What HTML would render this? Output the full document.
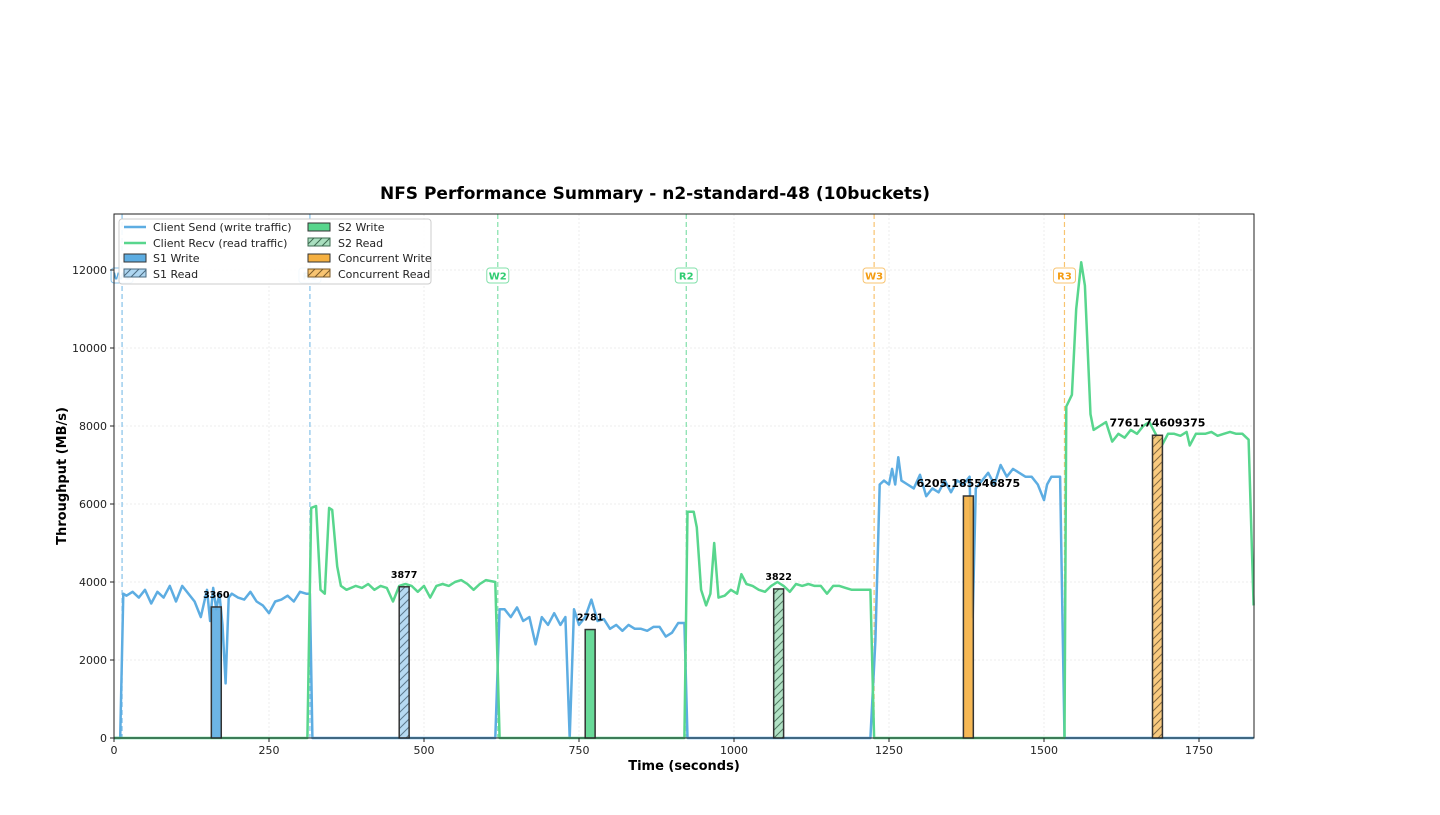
<!DOCTYPE html>
<html><head><meta charset="utf-8"><style>
body{margin:0;background:#fff;font-family:"Liberation Sans","DejaVu Sans",sans-serif}
svg text{font-family:"DejaVu Sans","Liberation Sans",sans-serif}
</style></head><body>
<svg id="chart" width="1440" height="810" xmlns="http://www.w3.org/2000/svg">
<defs>
<pattern id="hatchB" width="8" height="8" patternUnits="userSpaceOnUse"><rect width="8" height="8" fill="#aed6f1"/><path d="M0,8 L8,0 M-2,2 L2,-2 M6,10 L10,6" stroke="#4a6a80" stroke-width="1"/></pattern>
<pattern id="hatchG" width="8" height="8" patternUnits="userSpaceOnUse"><rect width="8" height="8" fill="#a9dfbf"/><path d="M0,8 L8,0 M-2,2 L2,-2 M6,10 L10,6" stroke="#3d6b50" stroke-width="1"/></pattern>
<pattern id="hatchO" width="8" height="8" patternUnits="userSpaceOnUse"><rect width="8" height="8" fill="#f8c471"/><path d="M0,8 L8,0 M-2,2 L2,-2 M6,10 L10,6" stroke="#7a5a2a" stroke-width="1"/></pattern>
</defs>
<g id="grid"></g><g id="marks"></g><g id="axes"></g>
</svg>
<script>
const sendT=[0,10,15,20,30,40,50,60,70,80,90,100,110,120,130,140,150,155,160,165,170,175,180,185,190,200,210,220,230,240,250,260,270,280,290,300,310,316,320,615,622,630,640,650,660,670,680,690,700,710,720,728,735,742,750,760,770,780,790,800,810,820,830,840,850,860,870,880,890,900,910,920,925,1220,1228,1235,1242,1250,1255,1260,1265,1270,1280,1290,1300,1310,1320,1330,1340,1350,1360,1370,1380,1385,1390,1400,1410,1420,1430,1440,1450,1460,1470,1480,1490,1500,1505,1512,1526,1533,1838];
const sendV=[0,0,3700,3650,3750,3600,3800,3450,3750,3600,3900,3500,3900,3700,3500,3100,3800,3000,3850,3300,3700,2900,1400,3600,3700,3600,3550,3750,3500,3400,3200,3500,3550,3650,3500,3750,3700,3700,0,0,3300,3300,3100,3350,3000,3100,2400,3100,2900,3200,2900,3100,0,3300,2900,3100,3550,3000,3050,2800,2900,2750,2900,2800,2800,2750,2850,2850,2600,2700,2950,2950,0,0,2500,6500,6600,6500,6900,6500,7200,6600,6500,6400,6750,6200,6400,6300,6600,6300,6600,6500,6700,3100,6400,6600,6800,6500,7000,6700,6900,6800,6700,6700,6500,6100,6500,6700,6700,0,0];
const recvT=[0,312,318,326,333,340,347,352,360,366,375,390,400,410,420,430,440,450,460,470,480,490,500,510,520,530,540,550,560,570,580,590,600,615,622,920,925,935,940,947,955,962,968,975,985,995,1005,1012,1020,1030,1040,1050,1060,1070,1080,1090,1100,1110,1120,1130,1140,1150,1160,1170,1180,1190,1200,1220,1226,1533,1536,1545,1552,1560,1566,1575,1580,1590,1600,1610,1620,1630,1640,1650,1660,1670,1680,1690,1700,1710,1720,1730,1735,1745,1760,1770,1780,1790,1800,1810,1820,1830,1838];
const recvV=[0,0,5900,5950,3800,3700,5900,5850,4400,3900,3800,3900,3850,3950,3800,3900,3850,3500,3900,3950,3900,3750,3900,3600,3900,3950,3900,4000,4050,3950,3800,3950,4050,4000,0,0,5800,5800,5400,3800,3400,3700,5000,3600,3650,3800,3700,4200,3950,3900,3800,3750,3900,4000,3900,3750,3950,3900,3950,3900,3900,3700,3900,3900,3850,3800,3800,3800,0,0,8500,8800,11000,12200,11600,8300,7900,8000,8100,7600,7800,7700,7900,7800,8000,8100,7800,7500,7800,7800,7750,7850,7500,7800,7800,7850,7750,7800,7850,7800,7800,7650,3400];
const barNames=["S1 Write","S1 Read","S2 Write","S2 Read","Concurrent Write","Concurrent Read"];
const barT=[165,468,768,1072,1378,1683];
const barV=[3360,3877,2781,3822,6205.185546875,7761.74609375];
const barLabels=["3360","3877","2781","3822","6205.185546875","7761.74609375"];
const phaseNames=["W1","R1","W2","R2","W3","R3"];
const phaseT=[13,316,619,923,1226,1533];
const xTicks=[0,250,500,750,1000,1250,1500,1750];
const yTicks=[0,2000,4000,6000,8000,10000,12000];

const X0=114,X1=1254,Y0=738,Y1=214,XMAX=1838.7,YMAX=13436;
const x=t=>X0+t/XMAX*(X1-X0), y=v=>Y0-v/YMAX*(Y0-Y1);
const NS="http://www.w3.org/2000/svg";
function mk(tag,attrs,parent,text){const e=document.createElementNS(NS,tag);for(const k in attrs)e.setAttribute(k,attrs[k]);if(text!==undefined)e.textContent=text;parent.appendChild(e);return e;}
const grid=document.getElementById('grid'),marks=document.getElementById('marks'),axes=document.getElementById('axes');
xTicks.forEach(t=>{mk('line',{x1:x(t),x2:x(t),y1:Y1,y2:Y0,stroke:'#eee','stroke-dasharray':'2,2'},grid);});
yTicks.forEach(v=>{mk('line',{x1:X0,x2:X1,y1:y(v),y2:y(v),stroke:'#eee','stroke-dasharray':'2,2'},grid);});
const phaseCol=['#85c1e9','#85c1e9','#82e0aa','#82e0aa','#f8c471','#f8c471'];
const phaseTxt=['#5dade2','#5dade2','#2ecc71','#2ecc71','#f39c12','#f39c12'];
phaseT.forEach((t,i)=>{
 const l=mk('line',{x1:x(t),x2:x(t),y1:Y1,y2:Y0,stroke:phaseCol[i],'stroke-dasharray':'5,3','stroke-width':1.2},marks);
 
 
 const g=mk('g',{},marks);
 
 
 mk('rect',{x:x(t)-11,y:268,width:22,height:15,rx:3,fill:'#fff',stroke:phaseCol[i]},g);
 mk('text',{x:x(t),y:279.5,'text-anchor':'middle','font-size':10,'font-weight':'bold',fill:phaseTxt[i]},g,phaseNames[i]);
});
function path(T,V){return T.map((t,i)=>(i?'L':'M')+x(t).toFixed(1)+','+y(V[i]).toFixed(1)).join(' ');}
const ps=mk('path',{d:path(sendT,sendV),fill:'none',stroke:'#5dade2','stroke-width':2.5,'stroke-linejoin':'round'},marks);


const pr=mk('path',{d:path(recvT,recvV),fill:'none',stroke:'#58d68d','stroke-width':2.5,'stroke-linejoin':'round'},marks);


const barFill=['#5dade2','url(#hatchB)','#58d68d','url(#hatchG)','#f5b041','url(#hatchO)'];
barT.forEach((t,i)=>{
 const w=x(8)-x(0);
 const r=mk('rect',{x:x(t)-w,y:y(barV[i]),width:2*w,height:Y0-y(barV[i]),fill:barFill[i],stroke:'#333','stroke-width':1.5,'fill-opacity':0.9},marks);
 
 
 const big=barV[i]>5000;
 const tx=mk('text',{x:x(t),y:y(barV[i])-9,'text-anchor':'middle','font-size':big?11:9.5,'font-weight':'bold',fill:'#000'},marks,barLabels[i]);
 
 
});
mk('rect',{x:X0,y:Y1,width:X1-X0,height:Y0-Y1,fill:'none',stroke:'#222','stroke-width':1},axes);
xTicks.forEach(t=>{mk('line',{x1:x(t),x2:x(t),y1:Y0,y2:Y0+4,stroke:'#222'},axes);
 const e=mk('text',{x:x(t),y:Y0+16,'text-anchor':'middle','font-size':11,fill:'#222'},axes,String(t));
 
 });
yTicks.forEach(v=>{mk('line',{x1:X0-4,x2:X0,y1:y(v),y2:y(v),stroke:'#222'},axes);
 const e=mk('text',{x:X0-7,y:y(v)+4,'text-anchor':'end','font-size':11,fill:'#222'},axes,String(v));
 
 });
</script>
<svg style="position:absolute;left:0;top:0" width="1440" height="810" xmlns="http://www.w3.org/2000/svg">
<text x="655" y="199" text-anchor="middle" font-size="17" font-weight="bold" font-family="DejaVu Sans, Liberation Sans, sans-serif">NFS Performance Summary - n2-standard-48 (10buckets)</text>
<text x="684" y="770" text-anchor="middle" font-size="13" font-weight="bold" font-family="DejaVu Sans, Liberation Sans, sans-serif">Time (seconds)</text>
<text transform="translate(66,476) rotate(-90)" text-anchor="middle" font-size="13" font-weight="bold" font-family="DejaVu Sans, Liberation Sans, sans-serif">Throughput (MB/s)</text>
<g font-size="11" font-family="DejaVu Sans, Liberation Sans, sans-serif" fill="#222">
<rect x="119" y="219" width="312" height="65" rx="3" fill="#fff" fill-opacity="0.9" stroke="#ccc"/>
<line x1="124" y1="227" x2="146" y2="227" stroke="#5dade2" stroke-width="2.5"/><text x="153" y="231">Client Send (write traffic)</text>
<line x1="124" y1="243" x2="146" y2="243" stroke="#58d68d" stroke-width="2.5"/><text x="153" y="247">Client Recv (read traffic)</text>
<rect x="124" y="254" width="22" height="8" fill="#5dade2" stroke="#333"/><text x="153" y="262">S1 Write</text>
<rect x="124" y="269" width="22" height="8" fill="url(#hatchB)" stroke="#4a6a80"/><text x="153" y="278">S1 Read</text>
<rect x="308" y="223" width="22" height="8" fill="#58d68d" stroke="#333"/><text x="338" y="231">S2 Write</text>
<rect x="308" y="238" width="22" height="8" fill="url(#hatchG)" stroke="#3d6b50"/><text x="338" y="247">S2 Read</text>
<rect x="308" y="254" width="22" height="8" fill="#f5b041" stroke="#333"/><text x="338" y="262">Concurrent Write</text>
<rect x="308" y="269" width="22" height="8" fill="url(#hatchO)" stroke="#7a5a2a"/><text x="338" y="278">Concurrent Read</text>
</g>
</svg>
</body></html>
